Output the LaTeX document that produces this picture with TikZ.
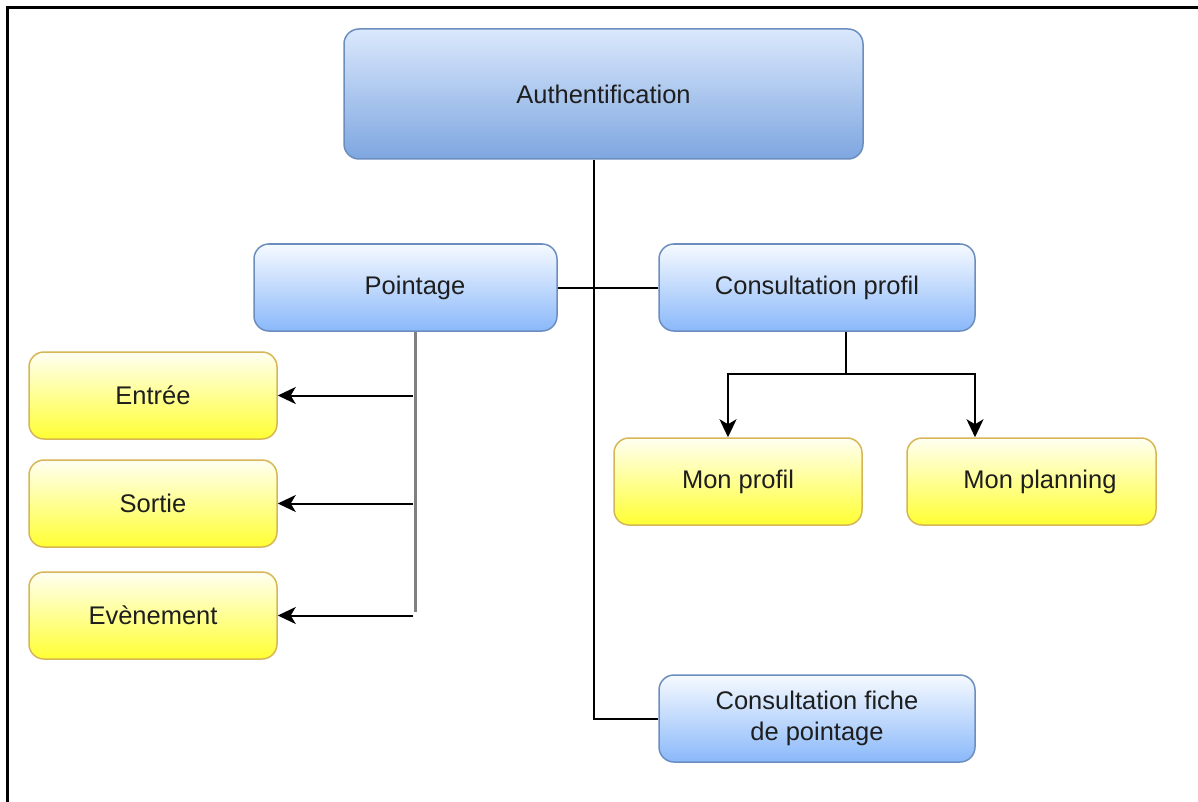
\documentclass[tikz,border=0pt]{standalone}
\usepackage{fontspec}
\setmainfont{Liberation Sans}
\usetikzlibrary{arrows.meta}
\definecolor{txt}{HTML}{1E1E1E}
\definecolor{bluetop}{HTML}{DAE8FC}
\definecolor{bluebot}{HTML}{7EA6E0}
\definecolor{blueedge}{HTML}{6C8EBF}
\definecolor{lbluetop}{HTML}{F6FAFF}
\definecolor{lbluebot}{HTML}{8AB8FA}
\definecolor{yeltop}{HTML}{FFFFF2}
\definecolor{yelbot}{HTML}{FFFF33}
\definecolor{yeledge}{HTML}{D6B656}
\tikzset{
  box/.style={rectangle, rounded corners=15pt, inner sep=0pt, line width=1.5pt,
    align=center, text=txt, font=\fontsize{25.5}{31}\selectfont},
  mainbox/.style={box, draw=blueedge, top color=bluetop, bottom color=bluebot,
    minimum width=519pt, minimum height=130pt},
  bluebox/.style={box, draw=blueedge, top color=lbluetop, bottom color=lbluebot,
    minimum height=87pt},
  yelbox/.style={box, draw=yeledge, top color=yeltop, bottom color=yelbot,
    minimum width=248pt, minimum height=87pt},
  link/.style={line width=2pt, black},
  bus/.style={line width=3pt, gray},
  arr/.style={link, ->, >={Stealth[length=18pt, width=17pt, inset=5pt]}}
}
\begin{document}
\begin{tikzpicture}[x=1pt, y=-1pt]
  \useasboundingbox (0,0) rectangle (1198,802);
  % frame (top and left edges)
  \draw[line width=3pt, black] (7,802) -- (7,8) -- (1198,8);

  % boxes
  \node[mainbox] (auth) at (603.5,94) {Authentification};
  \node[bluebox, minimum width=303pt] (point) at (405.5,287.5) {\hspace*{19pt}Pointage};
  \node[bluebox, minimum width=316pt] (cprof) at (817,287.5) {Consultation profil};
  \node[bluebox, minimum width=316pt] (fiche) at (817,718.5) {Consultation fiche\\de pointage};
  \node[yelbox] (entree) at (153,395.5) {Entrée};
  \node[yelbox] (sortie) at (153,503.5) {Sortie};
  \node[yelbox] (event) at (153,615.5) {Evènement};
  \node[yelbox] (monprofil) at (738,481.5) {Mon profil};
  \node[yelbox, minimum width=249pt] (monplan) at (1031.5,481.5) {\hspace*{17pt}Mon planning};

  % trunk from the top box
  \draw[link] ([xshift=-9.5pt]auth.south) |- (fiche.west);
  \draw[link] (point.east) -- (cprof.west);

  % Pointage branch
  \coordinate (pbus) at (415,612);
  \draw[bus] (point.south -| pbus) -- (pbus);
  \draw[arr] ([xshift=-2pt]entree.east -| pbus) -- (entree.east);
  \draw[arr] ([xshift=-2pt]sortie.east -| pbus) -- (sortie.east);
  \draw[arr] ([xshift=-2pt]event.east -| pbus) -- (event.east);

  % Consultation profil branch
  \coordinate (split) at (846,374);
  \draw[link] (cprof.south -| split) -- (split);
  \draw[arr] (split) -| ([xshift=-10pt]monprofil.north);
  \draw[arr] (split) -| ([xshift=-56.5pt]monplan.north);
\end{tikzpicture}
\end{document}
